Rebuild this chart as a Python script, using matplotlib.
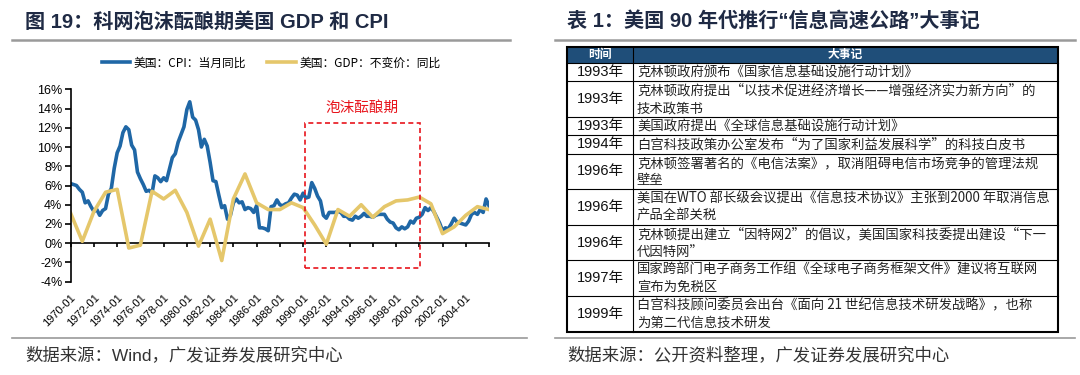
import numpy as np
import pandas as pd
import matplotlib
matplotlib.use("Agg")
import matplotlib.pyplot as plt
import matplotlib.dates as mdates
from matplotlib.patches import Rectangle
from matplotlib.lines import Line2D

plt.rcParams['font.family'] = ['Liberation Sans', 'Noto Sans CJK SC']

# CPI YoY (%), quarterly from 1970-01 (Jan/Apr/Jul/Oct)
cpi_yoy = [
    6.2, 6.1, 6.0, 5.6,   5.3, 4.2, 4.4, 3.8,   3.3, 3.5, 2.9, 3.4,
    3.6, 5.1, 5.7, 7.8,   9.4, 10.1, 11.5, 12.1, 11.8, 10.2, 9.7, 7.4,
    6.7, 6.1, 5.4, 5.5,   5.2, 7.0, 6.8, 6.4,   6.8, 6.5, 7.7, 8.9,
    9.3, 10.5, 11.3, 12.1, 13.9, 14.7, 13.1, 12.8, 11.8, 10.0, 10.8, 10.1,
    8.4, 6.5, 6.4, 5.0,   3.7, 3.9, 2.5, 2.9,   4.2, 4.6, 4.2, 4.3,
    3.5, 3.7, 3.6, 3.2,   3.9, 1.6, 1.6, 1.5,   1.3, 3.8, 3.9, 4.5,
    4.0, 3.9, 4.1, 4.2,   4.7, 5.1, 5.0, 4.5,   5.2, 4.7, 4.8, 6.3,
    5.7, 4.9, 4.4, 2.9,   2.6, 3.2, 3.2, 3.2,   3.3, 3.2, 2.8, 2.8,
    2.5, 2.4, 2.8, 2.6,   2.8, 3.1, 2.8, 2.8,   2.7, 2.9, 3.0, 3.0,
    3.0, 2.5, 2.2, 2.1,   1.6, 1.4, 1.7, 1.5,   1.7, 2.3, 2.1, 2.6,
    2.7, 3.0, 3.7, 3.4,   3.7, 3.3, 2.7, 2.1,   1.3, 1.6, 1.5, 2.0,
    2.6, 2.2, 2.1, 2.0,   1.9, 2.3, 3.0, 3.2,   3.0, 3.5, 3.2, 4.6,
    3.9,
]

# real GDP YoY (%), annual, plotted at January of the following year
gdp_years = list(range(1970, 2007))
gdp_yoy = [
    3.1, 0.2, 3.3, 5.3, 5.6, -0.5, -0.2, 5.4, 4.6, 5.5, 3.2, -0.3, 2.5,
    -1.8, 4.6, 7.2, 4.2, 3.5, 3.5, 4.2, 3.7, 1.9, -0.1, 3.5, 2.8, 4.0,
    2.7, 3.8, 4.4, 4.5, 4.8, 4.1, 1.0, 1.7, 2.9, 3.8, 3.5,
]

tick_years = list(range(1970, 2007, 2))
tick_labels = [f"{y}-01" for y in tick_years[:-1]] + [""]
y_ticks = list(range(-4, 17, 2))

bubble_start, bubble_end = "1990-02-15", "2000-02-01"
bubble_low, bubble_high = -2.6, 12.5

event_years = ["1993年", "1993年", "1993年", "1994年", "1996年",
               "1996年", "1996年", "1997年", "1999年"]
event_texts = [
    "克林顿政府颁布《国家信息基础设施行动计划》",
    "克林顿政府提出“以技术促进经济增长——增强经济实力新方向”的\n技术政策书",
    "美国政府提出《全球信息基础设施行动计划》",
    "白宫科技政策办公室发布“为了国家利益发展科学”的科技白皮书",
    "克林顿签署著名的《电信法案》，取消阻碍电信市场竞争的管理法规\n壁垒",
    "美国在WTO 部长级会议提出《信息技术协议》主张到2000 年取消信息\n产品全部关税",
    "克林顿提出建立“因特网2”的倡议，美国国家科技委提出建设“下一\n代因特网”",
    "国家跨部门电子商务工作组《全球电子商务框架文件》建议将互联网\n宣布为免税区",
    "白宫科技顾问委员会出台《面向 21 世纪信息技术研发战略》，也称\n为第二代信息技术研发",
]

blue = "#1f67a6"
gold = "#e5c76b"
red = "#e8141c"
navy = "#1f2a44"
W, H = 1080, 375

fig = plt.figure(figsize=(W / 100, H / 100), dpi=100)

# overlay in pixel units for titles, rules and the table
ov = fig.add_axes([0, 0, 1, 1])
ov.set_xlim(0, W)
ov.set_ylim(H, 0)
ov.axis("off")

ov.text(25, 22, "图 19：科网泡沫酝酿期美国 GDP 和 CPI", fontsize=14.5,
        fontweight="bold", color=navy, va="center", ha="left")
ov.text(567, 22, "表 1：美国 90 年代推行“信息高速公路”大事记", fontsize=14.5,
        fontweight="bold", color=navy, va="center", ha="left")
for x0, x1 in [(12, 510), (555, 1075)]:
    ov.plot([x0, x1], [40, 40], color="#9a9a9a", lw=1.8)
for x0, x1 in [(12, 527), (555, 1075)]:
    ov.plot([x0, x1], [338, 338], color="#9a9a9a", lw=1.2)
ov.text(25, 355, "数据来源：Wind，广发证券发展研究中心", fontsize=12.5,
        color="#333333", va="center", ha="left")
ov.text(567, 355, "数据来源：公开资料整理，广发证券发展研究中心", fontsize=12.5,
        color="#333333", va="center", ha="left")

# table
tl, tdiv, tr = 567, 633, 1058
top = 47
ov.add_patch(Rectangle((tl, top), tr - tl, 16, facecolor="#1f4e79",
                       edgecolor="none"))
ov.text((tl + tdiv) / 2, top + 8, "时间", color="white", fontsize=8.5,
        fontweight="bold", ha="center", va="center")
ov.text((tdiv + tr) / 2, top + 8, "大事记", color="white", fontsize=8.5,
        fontweight="bold", ha="center", va="center")
y = top + 16
for yr, txt in zip(event_years, event_texts):
    n = txt.count("\n") + 1
    h = 1 + 17.3 * n
    ov.plot([tl, tr], [y, y], color="black", lw=0.8)
    ov.text((tl + tdiv) / 2, y + h / 2, yr, fontsize=10.5, color="#111111",
            ha="center", va="center")
    ov.text(tdiv + 4, y + h / 2 + 0.5, txt, fontsize=9.6, color="#222222",
            ha="left", va="center", linespacing=1.3,
            family=["Noto Sans CJK SC", "DejaVu Sans"])
    y += h
ov.plot([tdiv, tdiv], [top, y], color="black", lw=0.8)
ov.add_patch(Rectangle((tl, top), tr - tl, y - top, fill=False,
                       edgecolor="black", lw=1.5))

# line chart
ax_l, ax_r, ax_t, ax_b = 70.7, 489, 89.3, 281.7
ax = fig.add_axes([ax_l / W, 1 - ax_b / H, (ax_r - ax_l) / W, (ax_b - ax_t) / H])
ax.patch.set_alpha(0)

cpi_dates = pd.date_range("1970-01-01", periods=len(cpi_yoy), freq="QS")
gdp_dates = pd.to_datetime([f"{y}-01-01" for y in gdp_years])

ax.plot(cpi_dates, cpi_yoy, color=blue, lw=2.6, label="美国：CPI：当月同比",
        solid_joinstyle="round")
ax.plot(gdp_dates, gdp_yoy, color=gold, lw=2.6, label="美国：GDP：不变价：同比",
        solid_joinstyle="round")

ax.set_xlim(pd.Timestamp("1970-01-01"), pd.Timestamp("2006-01-01"))
ax.set_ylim(-4, 16)
ticks = [pd.Timestamp(f"{y}-01-01") for y in tick_years]
ax.set_xticks(ticks)
ax.set_xticklabels(tick_labels, rotation=45, ha="right", va="top",
                   rotation_mode="anchor", fontsize=8)
ax.tick_params(axis="x", length=0, pad=8)
ax.set_yticks(y_ticks)
ax.set_yticklabels([f"{v}%" for v in y_ticks], fontsize=9)
ax.tick_params(axis="y", direction="out", length=4, width=1.2, pad=2)
for s in ["top", "right", "bottom"]:
    ax.spines[s].set_visible(False)
ax.spines["left"].set_linewidth(1.2)

# zero line with tick marks
zero_pos = (0 - ax.get_ylim()[0]) / (ax.get_ylim()[1] - ax.get_ylim()[0])
sec = ax.secondary_xaxis(zero_pos)
sec.set_xticks(mdates.date2num(ticks))
sec.tick_params(axis="x", direction="out", length=3, width=1.2,
                labelbottom=False, labeltop=False)
sec.spines["bottom"].set_linewidth(1.2)

# bubble period box
x0 = mdates.date2num(pd.Timestamp(bubble_start))
x1 = mdates.date2num(pd.Timestamp(bubble_end))
ax.add_patch(Rectangle((x0, bubble_low), x1 - x0, bubble_high - bubble_low,
                       fill=False, edgecolor=red, lw=1.2, ls=(0, (3, 2)),
                       clip_on=False, zorder=4))
ax.text((x0 + x1) / 2, 14.1, "泡沫酝酿期", color=red, fontsize=10.5,
        ha="center", va="center", family=["Noto Sans CJK SC", "DejaVu Sans"])

handles, labels = ax.get_legend_handles_labels()
fig.legend(handles, labels, loc="center", bbox_to_anchor=(0.251, 0.832),
           ncol=2, frameon=False, fontsize=8.5, handlelength=2.4,
           handletextpad=0.3, columnspacing=1.8,
           prop={"family": ["Noto Sans CJK SC", "DejaVu Sans"], "size": 8.5})

fig.savefig("out.png", dpi=100)
